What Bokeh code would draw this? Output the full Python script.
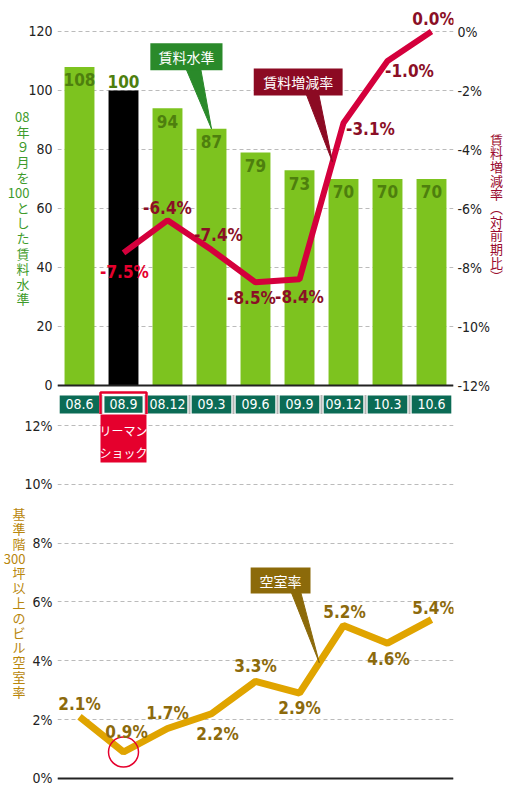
import numpy as np
from bokeh.plotting import figure
from bokeh.models import (ColumnDataSource, Range1d, LinearAxis, SingleIntervalTicker,
                          PrintfTickFormatter, Span)
from bokeh.layouts import column
from bokeh.core.properties import value
from bokeh.embed import file_html
from bokeh.resources import INLINE

# data
periods = ["08.6", "08.9", "08.12", "09.3", "09.6", "09.9", "09.12", "10.3", "10.6"]
rent_level = [108, 100, 94, 87, 79, 73, 70, 70, 70]
rent_change = [None, -7.5, -6.4, -7.4, -8.5, -8.4, -3.1, -1.0, 0.0]
vacancy = [2.1, 0.9, 1.7, 2.2, 3.3, 2.9, 5.2, 4.6, 5.4]
lehman = 1  # index of 08.9

# label placement (pixel offsets from the point)
rent_lbl_off = [None, (1, 19), (0, -12), (7, -15), (-4, 16), (0, 18), (27, 6), (22, 10), (2, -13)]
vac_lbl_off = [(0, -13), (3, -20), (0, -15), (6, 20), (0, -15), (0, 15), (1, -14), (1, 16), (2, -12)]

NUM_FONT = "DejaVu Sans Condensed, Roboto, sans-serif"
JP_FONT = "Noto Sans CJK JP"
BAR_GREEN = "#7dc31f"
RENT_RED = "#d4003c"
RENT_DARK = "#8a0f26"
VAC_GOLD = "#e0a400"
VAC_DARK = "#8c6a0c"
LEHMAN_RED = "#e5002d"
W = 520
idx = list(range(len(periods)))


def style_axis(ax, interval, fmt=None, standoff=5):
    ax.ticker = SingleIntervalTicker(interval=interval)
    if fmt:
        ax.formatter = PrintfTickFormatter(format=fmt)
    ax.axis_line_color = None
    ax.major_tick_line_color = None
    ax.minor_tick_line_color = None
    ax.major_tick_out = 0
    ax.major_tick_in = 0
    ax.minor_tick_out = 0
    ax.major_label_standoff = standoff
    ax.major_label_text_font = NUM_FONT
    ax.major_label_text_font_size = "14px"
    ax.major_label_text_color = "#222222"


def axis_title(ax, chars, color, size="13px", lh=0.78, standoff=-4):
    # stacked (tategaki style) axis title
    ax.axis_label = "\n".join(chars)
    ax.axis_label_orientation = "horizontal"
    ax.axis_label_text_font = JP_FONT
    ax.axis_label_text_font_style = "normal"
    ax.axis_label_text_font_size = size
    ax.axis_label_text_color = color
    ax.axis_label_text_line_height = lh
    ax.axis_label_text_align = "center"
    ax.axis_label_standoff = standoff


def callout(fig, text, cx, cy, w, h, base, tip_x, tip_y, color, rname="default"):
    yb = cy - h / 2
    fig.patch([cx + base[0], cx + base[1], tip_x], [yb + h * 0.1, yb + h * 0.1, tip_y],
              fill_color=color, line_color=color, line_width=1, y_range_name=rname)
    fig.rect(x=[cx], y=[cy], width=w, height=h, fill_color=color, line_color=None,
             y_range_name=rname)
    fig.text(x=[cx], y=[cy], text=[text], text_color="white", text_font=value(JP_FONT),
             text_font_size="14px", text_align="center", text_baseline="middle",
             y_range_name=rname)


def base_fig(height, y_range):
    f = figure(width=W, height=height, x_range=Range1d(-0.5, 8.5), y_range=y_range,
               x_axis_location=None, toolbar_location=None, output_backend="svg",
               min_border_left=57, min_border_right=67, min_border_top=0,
               min_border_bottom=0, outline_line_color=None)
    f.xgrid.grid_line_color = None
    f.ygrid.grid_line_color = "#bbbbbb"
    f.ygrid.grid_line_dash = "4 3"
    return f


# ---------- top: rent level bars + rent change line ----------
p = base_fig(414, Range1d(-9.83, 130.5))
style_axis(p.yaxis[0], 20)
axis_title(p.yaxis[0], ["08", "年", "９", "月", "を", "100", "と", "し", "た",
                        "賃", "料", "水", "準"], "#3e9b2b", lh=0.8)
p.extra_y_ranges = {"rate": Range1d(-12.98, 1.051)}
rax = LinearAxis(y_range_name="rate")
style_axis(rax, 2, "%d%%", standoff=4)
axis_title(rax, list("賃料増減率︵対前期比︶"), "#9a0a2e", lh=0.72, standoff=-3)
p.add_layout(rax, "right")

bar_colors = ["black" if i == lehman else BAR_GREEN for i in idx]
bars = ColumnDataSource(dict(x=idx, top=rent_level, color=bar_colors,
                             lbl=[str(v) for v in rent_level],
                             dy=[-9 if i == lehman else 13 for i in idx]))
p.vbar(x="x", top="top", bottom=0, width=0.68, fill_color="color", line_color=None, source=bars)
p.text(x="x", y="top", text="lbl", y_offset="dy", source=bars, text_color="#4e7f0e",
       text_font=value(NUM_FONT), text_font_style="bold", text_font_size="17px",
       text_align="center", text_baseline="middle")
p.add_layout(Span(location=0, dimension="width", line_color="#222222", line_width=2))

# category boxes below the baseline
p.rect(x=idx, y=-6.44, width=0.9, height=6.1, fill_color="#0b6b55",
       line_color=["white" if i == lehman else None for i in idx], line_width=1.5)
p.segment(x0=[i + 0.5 for i in idx[:-1]], y0=-3.2, x1=[i + 0.5 for i in idx[:-1]], y1=-9.7,
          line_color="#b5b5b5", line_width=2)
p.text(x=idx, y=-6.44, text=periods, text_color="white", text_font=value(NUM_FONT),
       text_font_size="14px", text_align="center", text_baseline="middle")
p.rect(x=[lehman], y=[-8.2], width=1.045, height=11.6, fill_color=None,
       line_color=LEHMAN_RED, line_width=2.5)

rx = [i for i in idx if rent_change[i] is not None]
ry = [rent_change[i] for i in rx]
p.line(rx, ry, line_color=RENT_RED, line_width=6, y_range_name="rate")
rent_src = ColumnDataSource(dict(
    x=rx, y=ry, lbl=["%.1f%%" % v for v in ry],
    dx=[rent_lbl_off[i][0] for i in rx], dy=[rent_lbl_off[i][1] for i in rx],
    color=[LEHMAN_RED if i == lehman else RENT_DARK for i in rx]))
p.text(x="x", y="y", text="lbl", x_offset="dx", y_offset="dy", source=rent_src,
       text_color="color", text_font=value(NUM_FONT), text_font_style="bold",
       text_font_size="17px", text_align="center", text_baseline="middle",
       y_range_name="rate")

callout(p, "賃料水準", 2.43, 111.4, 1.64, 9.15, (-0.02, 0.32), 3, rent_level[3], "#2a8a2a")
tip = 5.75
callout(p, "賃料増減率", 4.97, -1.71, 2.02, 0.915, (0.17, 0.46), tip,
        float(np.interp(tip, rx, ry)), "#8c0a23", "rate")

# ---------- bottom: vacancy rate ----------
q = base_fig(376, Range1d(-0.408, 12.374))
style_axis(q.yaxis[0], 2, "%d%%")
axis_title(q.yaxis[0], ["基", "準", "階", "300", "坪", "以", "上", "の", "ビ", "ル",
                        "空", "室", "率"], "#b8860b", lh=0.78)
q.add_layout(Span(location=0, dimension="width", line_color="#222222", line_width=2))

q.rect(x=[lehman], y=[11.67], width=1.045, height=1.86, fill_color=LEHMAN_RED, line_color=None)
q.text(x=[lehman], y=[11.47], text=["リーマン\nショック"], text_color="white",
       text_font=value(JP_FONT), text_font_size="12px", text_align="center",
       text_baseline="middle", text_line_height=1.3)

q.line(idx, vacancy, line_color=VAC_GOLD, line_width=7)
q.scatter(x=[lehman], y=[vacancy[lehman]], marker="circle", size=30, fill_color=None,
          line_color=LEHMAN_RED, line_width=1.5)
vac_src = ColumnDataSource(dict(x=idx, y=vacancy, lbl=["%.1f%%" % v for v in vacancy],
                                dx=[o[0] for o in vac_lbl_off], dy=[o[1] for o in vac_lbl_off]))
q.text(x="x", y="y", text="lbl", x_offset="dx", y_offset="dy", source=vac_src,
       text_color=VAC_DARK, text_font=value(NUM_FONT), text_font_style="bold",
       text_font_size="17px", text_align="center", text_baseline="middle")

tip = 5.45
callout(q, "空室率", 4.57, 6.73, 1.36, 0.88, (0.23, 0.45), tip,
        float(np.interp(tip, idx, vacancy)), "#8c6a0a")

layout = column(p, q)
open("out.html", "w").write(file_html(layout, INLINE))
